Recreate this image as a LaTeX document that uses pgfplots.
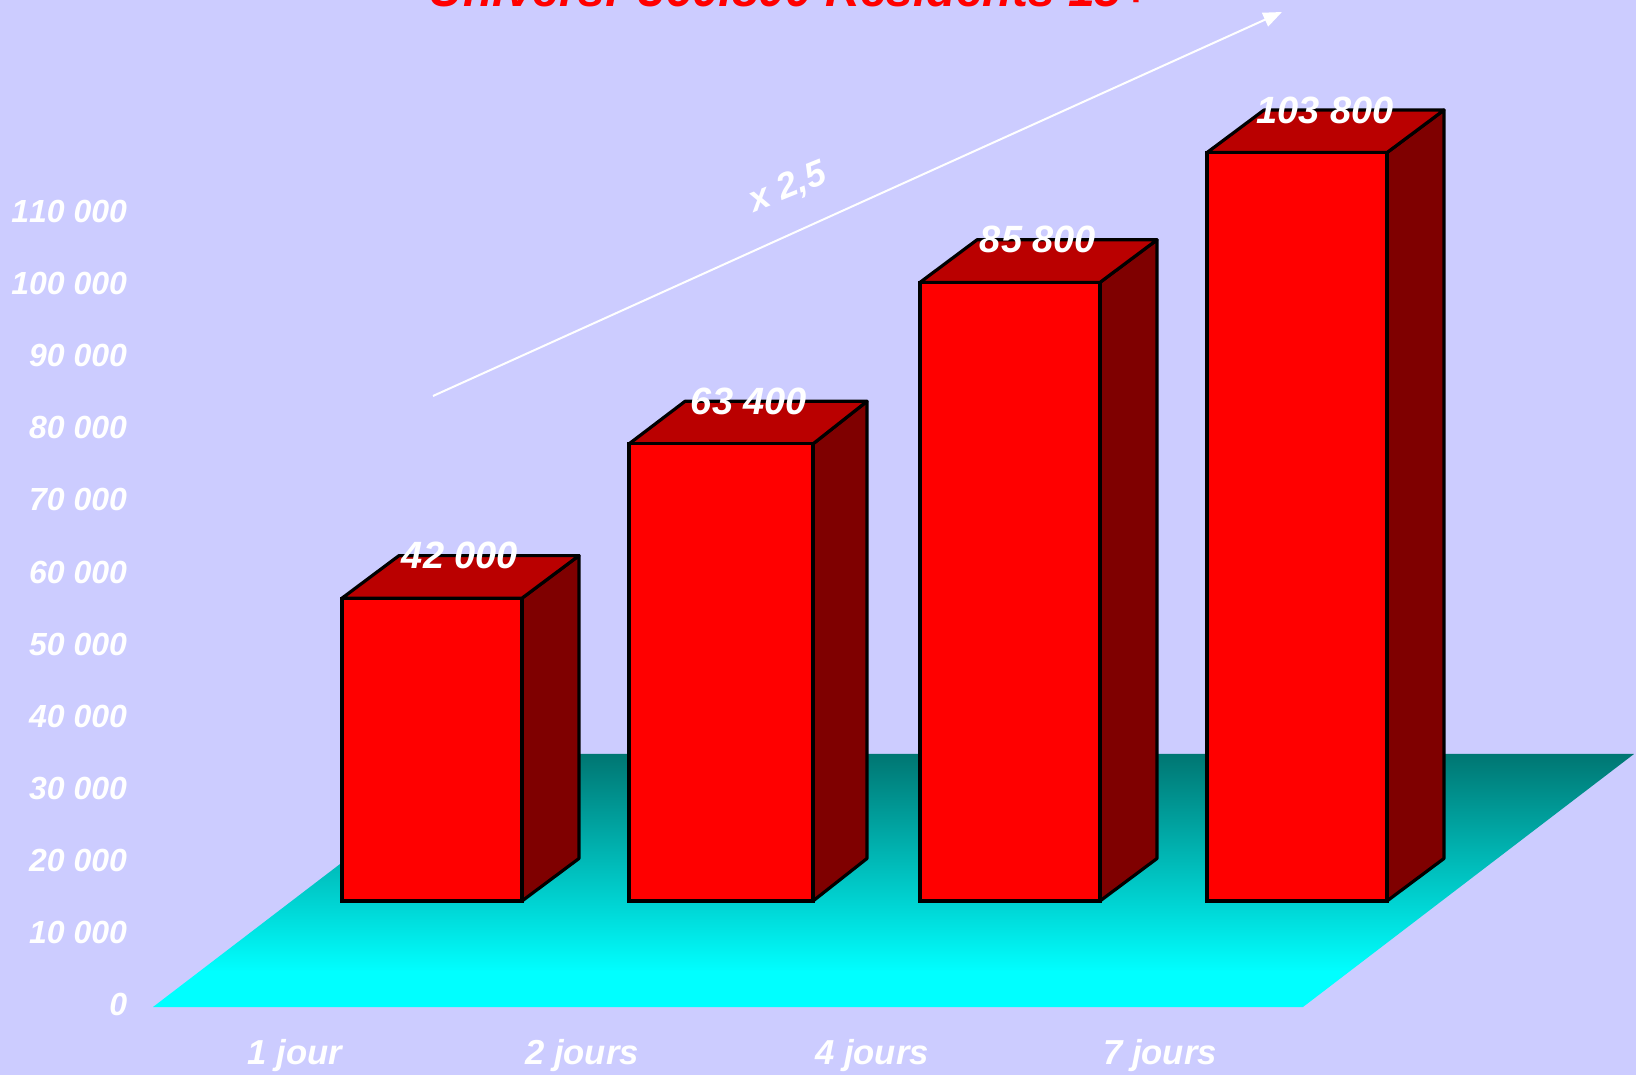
\documentclass[border=0pt]{standalone}
\usepackage{fontspec}
\setmainfont[Kerning=Off]{Liberation Sans}
\usepackage{pgfplots}
\pgfplotsset{compat=1.18}
\usetikzlibrary{arrows.meta}
\definecolor{bgc}{HTML}{CCCCFF}
\definecolor{floorlo}{HTML}{00FFFF}
\definecolor{floorhi}{HTML}{007672}
\definecolor{topc}{HTML}{BA0000}
\definecolor{sidec}{HTML}{7F0000}
\pgfdeclareverticalshading{floorshade}{100bp}{color(0bp)=(floorlo); color(32bp)=(floorlo); color(75bp)=(floorhi); color(100bp)=(floorhi)}
\newcommand{\lab}[1]{\fontsize{#1}{#1}\selectfont\bfseries\itshape}
\pgfplotsset{
  facestyle/.style={draw=black, line width=2.4pt, line join=round, mark=none},
  frontbar/.style={ybar, bar shift=0pt, bar width=#1, fill=red, draw=black, line width=2.4pt,
    nodes near coords,
    every node near coord/.append style={anchor=center, xshift=21pt, yshift=32pt, text=white, font=\lab{28.5}, inner sep=0pt}},
}
\begin{document}
\begin{tikzpicture}
\path[use as bounding box] (0pt,0pt) rectangle (1227pt,806.25pt);
\clip (0pt,0pt) rectangle (1227pt,806.25pt);
\fill[bgc] (0pt,0pt) rectangle (1227pt,806.25pt);
% floor and tick labels
\begin{axis}[
  at={(97.5pt,51pt)}, anchor=south west, scale only axis,
  width=1129.5pt, height=755.25pt,
  xmin=130, xmax=1636, ymin=-416, ymax=139251,
  clip=false,
  axis line style={draw=none}, major tick length=0pt,
  axis x line*=bottom, axis y line*=left,
  xtick={295,582,872,1160},
  xticklabels={1 jour,2 jours,4 jours,7 jours},
  ytick={0,10000,20000,30000,40000,50000,60000,70000,80000,90000,100000,110000},
  scaled y ticks=false,
  /pgf/number format/.cd, fixed, 1000 sep={\ }, assume math mode=true, /pgfplots/.cd,
  yticklabel style={font=\lab{24}, text=white, anchor=east, inner sep=0pt, xshift=-2pt, yshift=-0.5pt},
  xticklabel style={font=\lab{26}, text=white, anchor=base, yshift=-43pt},
]
\addplot[shade, shading=floorshade, draw=none, mark=none]
  coordinates {(153,-416) (1303,-416) (1634,34675) (484,34675)} --cycle;
\end{axis}
% bars
\begin{axis}[
  at={(97.5pt,130.5pt)}, anchor=south west, scale only axis,
  width=1129.5pt, height=675.75pt,
  xmin=130, xmax=1636, ymin=0, ymax=124965,
  hide axis, clip=false,
  /pgf/number format/.cd, fixed, 1000 sep={\ }, assume math mode=true, /pgfplots/.cd,
]
% side faces
\addplot[facestyle, fill=sidec] coordinates {(522,0) (579,5900) (579,47900) (522,42000)} --cycle;
\addplot[facestyle, fill=sidec] coordinates {(813,0) (867,5900) (867,69300) (813,63400)} --cycle;
\addplot[facestyle, fill=sidec] coordinates {(1100,0) (1157,5900) (1157,91700) (1100,85800)} --cycle;
\addplot[facestyle, fill=sidec] coordinates {(1387,0) (1444,5900) (1444,109700) (1387,103800)} --cycle;
% top faces
\addplot[facestyle, fill=topc] coordinates {(342,42000) (399,47900) (579,47900) (522,42000)} --cycle;
\addplot[facestyle, fill=topc] coordinates {(629,63400) (685,69300) (867,69300) (813,63400)} --cycle;
\addplot[facestyle, fill=topc] coordinates {(920,85800) (977,91700) (1157,91700) (1100,85800)} --cycle;
\addplot[facestyle, fill=topc] coordinates {(1207,103800) (1264,109700) (1444,109700) (1387,103800)} --cycle;
% front faces
\addplot[frontbar=180] coordinates {(432,42000)};
\addplot[frontbar=184] coordinates {(721,63400)};
\addplot[frontbar=180] coordinates {(1010,85800)};
\addplot[frontbar=180] coordinates {(1297,103800)};
\end{axis}
\draw[white, line width=1.5pt, -{Triangle[length=14pt,width=11pt]}] (324.75pt,509.25pt) -- (961.5pt,797.25pt);
\node[text=white, font=\lab{27}, rotate=22, inner sep=0pt] at (591pt,665.25pt) {x 2,5};
\node[text=red, font=\lab{36}, anchor=base, inner sep=0pt] at (592pt,801pt) {Univers: 360.800 Résidents 15+};
\end{tikzpicture}
\end{document}
